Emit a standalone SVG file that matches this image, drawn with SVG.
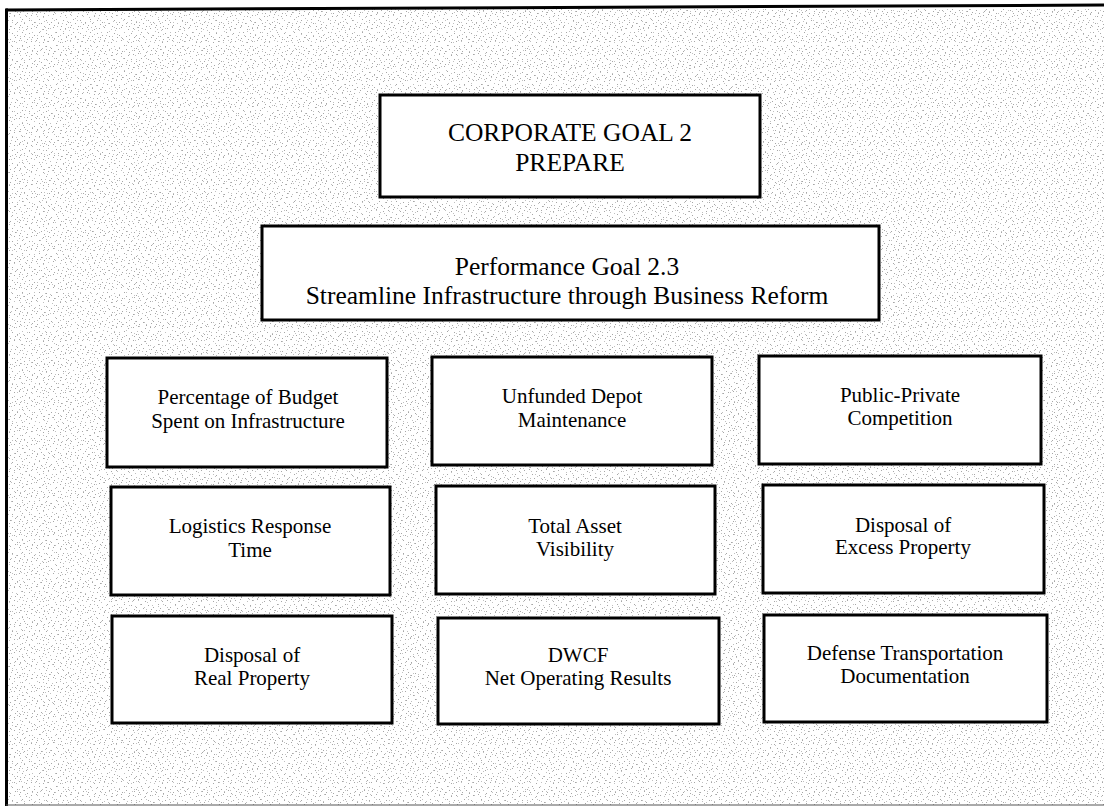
<svg xmlns="http://www.w3.org/2000/svg" width="1104" height="806" viewBox="0 0 1104 806">
<defs>
<pattern id="stA" width="17" height="13" patternUnits="userSpaceOnUse">
<path fill="#a6a6a6" d="M2 1h1v1h-1zM9 3h1v1h-1zM14 2h1v1h-1zM5 6h1v1h-1zM12 7h1v1h-1zM0 9h1v1h-1zM7 10h1v1h-1zM15 11h1v1h-1zM3 12h1v1h-1zM10 0h1v1h-1z"/>
</pattern>
<pattern id="stB" width="23" height="19" patternUnits="userSpaceOnUse">
<path fill="#c0c0c0" d="M1 3h1v1h-1zM8 1h1v1h-1zM16 4h1v1h-1zM21 2h1v1h-1zM4 9h1v1h-1zM11 7h1v1h-1zM19 10h1v1h-1zM2 15h1v1h-1zM9 13h1v1h-1zM14 16h1v1h-1zM20 17h1v1h-1zM6 18h1v1h-1zM17 12h1v1h-1zM12 3h1v1h-1zM0 11h1v1h-1zM22 8h1v1h-1z"/>
</pattern>
</defs>
<style>
.box{fill:#fff;stroke:#000;stroke-width:3}
.t{font-family:"Liberation Serif","Times New Roman",serif;fill:#000;text-anchor:middle}
.big{font-size:25.5px}
.mid{font-size:25.5px}
.sm{font-size:21px}
</style>
<rect x="0" y="0" width="1104" height="806" fill="#fff"/>
<g id="background">
<rect x="7" y="9" width="1097" height="796" fill="url(#stA)"/>
<rect x="7" y="9" width="1097" height="796" fill="url(#stB)"/>
<path d="M6 10 L1104 5" stroke="#000" stroke-width="3" fill="none"/>
<path d="M6.5 8.5 V806" stroke="#000" stroke-width="3" fill="none"/>
<path d="M6 805 H1104" stroke="#555" stroke-width="1" fill="none"/>
</g>
<g id="corporate-goal">
<rect class="box" x="380" y="95" width="380" height="102"/>
<text class="t big" x="570" y="141">CORPORATE GOAL 2</text>
<text class="t big" x="570" y="171">PREPARE</text>
</g>
<g id="performance-goal">
<rect class="box" x="262" y="226" width="617" height="94"/>
<text class="t mid" x="567" y="275">Performance Goal 2.3</text>
<text class="t mid" x="567" y="304">Streamline Infrastructure through Business Reform</text>
</g>
<g id="budget-infrastructure">
<rect class="box" x="107" y="358" width="280" height="109"/>
<text class="t sm" x="248" y="404">Percentage of Budget</text>
<text class="t sm" x="248" y="428">Spent on Infrastructure</text>
</g>
<g id="unfunded-depot">
<rect class="box" x="432" y="357" width="280" height="108"/>
<text class="t sm" x="572" y="403">Unfunded Depot</text>
<text class="t sm" x="572" y="427">Maintenance</text>
</g>
<g id="public-private">
<rect class="box" x="759" y="356" width="282" height="108"/>
<text class="t sm" x="900" y="402">Public-Private</text>
<text class="t sm" x="900" y="425">Competition</text>
</g>
<g id="logistics-response">
<rect class="box" x="111" y="487" width="279" height="108"/>
<text class="t sm" x="250" y="533">Logistics Response</text>
<text class="t sm" x="250" y="557">Time</text>
</g>
<g id="total-asset">
<rect class="box" x="436" y="486" width="279" height="108"/>
<text class="t sm" x="575" y="533">Total Asset</text>
<text class="t sm" x="575" y="556">Visibility</text>
</g>
<g id="excess-property">
<rect class="box" x="763" y="485" width="281" height="108"/>
<text class="t sm" x="903" y="532">Disposal of</text>
<text class="t sm" x="903" y="554">Excess Property</text>
</g>
<g id="real-property">
<rect class="box" x="112" y="616" width="280" height="107"/>
<text class="t sm" x="252" y="662">Disposal of</text>
<text class="t sm" x="252" y="685">Real Property</text>
</g>
<g id="dwcf">
<rect class="box" x="438" y="618" width="281" height="106"/>
<text class="t sm" x="578" y="662">DWCF</text>
<text class="t sm" x="578" y="685">Net Operating Results</text>
</g>
<g id="transportation-documentation">
<rect class="box" x="764" y="615" width="283" height="107"/>
<text class="t sm" x="905" y="660">Defense Transportation</text>
<text class="t sm" x="905" y="683">Documentation</text>
</g>
</svg>
